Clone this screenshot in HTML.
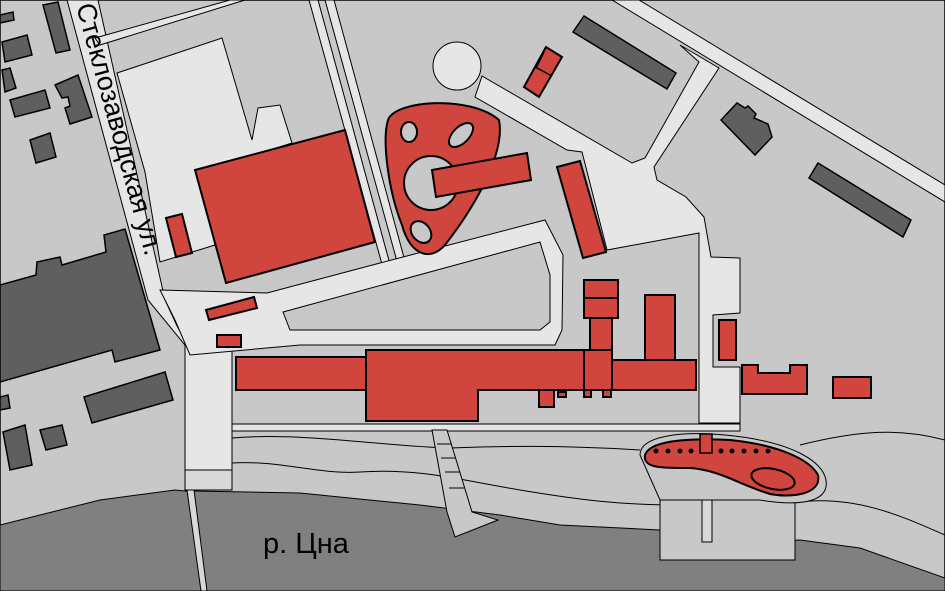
<!DOCTYPE html>
<html><head><meta charset="utf-8"><style>
html,body{margin:0;padding:0;background:#c8c8c8;}
svg{display:block;}
</style></head><body>
<svg width="945" height="591" viewBox="0 0 945 591" xmlns="http://www.w3.org/2000/svg">
<rect x="0" y="0" width="945" height="591" fill="#c8c8c8" stroke="#000" stroke-width="1.5"/>
<g stroke="#000" stroke-width="1" fill="#e6e6e6">
<polygon points="67,0 98,0 165,300 178,328 186,340 232,340 232,490 185,490 185,345 148,300" />
<polygon points="95,38 230,0 245,0 100,45"/>
<polygon points="117,73 222,38 252,140 258,108 280,105 292,143 200,172 215,245 160,262 145,172"/>
<polygon points="309,0 318,0 391,268 383,268"/>
<polygon points="325,0 334,0 406,265 398,265"/>
<polygon points="160,290 267,293 380,263 545,220 563,255 562,330 555,345 300,345 190,355 175,320"/>
<polygon fill="#c8c8c8" points="283,312 540,242 550,275 550,322 540,330 290,330"/>
<!-- branch + plaza -->
<polygon points="680,45 719,68 654,167 657,180 686,197 704,217 711,257 740,258 740,313 713,315 713,367 740,367 740,423 699,423 699,233 607,250 582,152 567,150 475,97 482,76 632,163 645,158 699,62"/>
<!-- top right diagonal road -->
<polygon points="612,0 639,0 945,185 945,202"/>
<circle cx="457" cy="66" r="24"/>
<rect x="232" y="424" width="508" height="7"/>
</g>
<!-- river -->
<path d="M0,525 L100,500 L175,490 L185,491 L193,491 L300,493 L420,505 L500,515 L560,525 L660,530 L700,545 L800,540 L860,548 L945,578 L945,591 L0,591 Z" fill="#808080" stroke="#000" stroke-width="1"/>
<g fill="none" stroke="#000" stroke-width="1">
<path d="M232,438 C300,432 380,446 450,448 C500,446 560,445 640,450"/>
<path d="M232,463 C280,460 320,475 360,472 C420,468 460,480 520,490 C580,500 620,505 680,505"/>
<path d="M800,445 C860,430 900,428 945,440"/>
<path d="M800,502 C860,495 910,520 945,535"/>
</g>
<g stroke="#000" stroke-width="1" fill="#c8c8c8">
<polygon points="432,430 447,430 472,512 498,520 455,537 447,512"/>
<rect x="660" y="500" width="135" height="60"/>
<rect x="702" y="500" width="10" height="42" fill="#d8d8d8"/>
<polygon points="187,490 194,490 207,591 201,591" fill="#d8d8d8"/>
<rect x="185" y="470" width="47" height="20" fill="#d8d8d8"/>
</g>
<g stroke="#000" stroke-width="1" fill="none">
<line x1="437" y1="444" x2="452" y2="444"/><line x1="441" y1="458" x2="456" y2="458"/><line x1="445" y1="472" x2="460" y2="472"/><line x1="449" y1="488" x2="464" y2="488"/>
</g>
<path d="M640,455 C640,436 680,431 725,435 C790,441 830,462 826,487 C822,505 790,505 760,500 L660,500 Z" fill="#c8c8c8" stroke="#000" stroke-width="1"/>
<path d="M645,455 C650,440 690,438 730,440 C780,445 810,460 818,475 C822,495 790,498 770,494 C740,485 720,470 690,468 C660,468 643,468 645,455Z" fill="#d0463f" stroke="#000" stroke-width="2"/>
<ellipse cx="773" cy="479" rx="22" ry="10" transform="rotate(12 773 479)" fill="#d0463f" stroke="#000" stroke-width="2"/>
<rect x="700" y="434" width="12" height="19" fill="#d0463f" stroke="#000" stroke-width="1.5"/>
<g fill="#000">
<circle cx="656" cy="451" r="2.5"/><circle cx="668" cy="451" r="2.5"/><circle cx="680" cy="451" r="2.5"/><circle cx="691" cy="451" r="2.5"/><circle cx="721" cy="451" r="2.5"/><circle cx="732" cy="451" r="2.5"/><circle cx="744" cy="451" r="2.5"/><circle cx="756" cy="451" r="2.5"/><circle cx="768" cy="451" r="2.5"/>
</g>
<g fill="#5f5f5f" stroke="#000" stroke-width="1.5">
<polygon points="43,5 58,2 70,50 56,53"/>
<polygon points="0,15 13,12 14,20 0,23"/>
<polygon points="2,42 27,35 32,55 5,62"/>
<polygon points="2,70 10,68 16,88 5,92"/>
<polygon points="10,100 45,90 50,108 15,117"/>
<polygon points="55,85 78,75 92,117 70,124 65,108 70,106 68,97 62,98"/>
<polygon points="30,140 50,133 56,157 36,163"/>
<polygon points="0,285 36,275 37,262 60,257 62,265 106,252 104,235 125,229 160,350 115,362 112,350 0,382"/>
<polygon points="84,397 165,372 173,400 92,423"/>
<polygon points="0,397 8,395 10,408 0,410"/>
<polygon points="3,432 25,425 32,465 10,470"/>
<polygon points="40,430 62,425 67,445 46,450"/>
<polygon points="573,32 584,16 676,73 667,89"/>
<polygon points="809,178 818,163 911,220 903,237"/>
<polygon points="721,120 737,103 745,108 748,106 756,114 754,118 768,124 772,137 755,155"/>
</g>
<g fill="#d0463f" stroke="#000" stroke-width="2">
<polygon points="195,170 345,130 375,242 226,283"/>
<polygon points="166,218 182,214 192,253 176,257"/>
<polygon points="206,310 254,297 257,308 209,320"/>
<rect x="217" y="335" width="24" height="12"/>
<rect x="236" y="357" width="130" height="33"/>
<polygon points="366,350 585,350 585,390 478,390 478,421 366,421"/>
<rect x="584" y="350" width="28" height="40"/>
<rect x="612" y="360" width="84" height="30"/>
<rect x="590" y="318" width="22" height="32"/>
<rect x="584" y="280" width="34" height="18"/>
<rect x="584" y="298" width="34" height="20"/>
<rect x="645" y="295" width="30" height="65"/>
<rect x="539" y="390" width="15" height="17"/>
<rect x="558" y="392" width="8" height="5"/>
<rect x="584" y="390" width="7" height="7"/>
<rect x="603" y="390" width="8" height="7"/>
<rect x="719" y="320" width="17" height="40"/>
<polygon points="742,365 758,365 758,373 790,373 790,365 807,365 807,394 742,394"/>
<rect x="833" y="377" width="38" height="21"/>
<polygon points="557,167 580,161 606,252 583,258"/>
<polygon points="524,87 546,47 562,57 539,97"/>
<path d="M388,120 C395,100 470,95 499,120 C505,150 480,200 445,245 C430,262 410,255 402,225 C388,190 382,140 388,120 Z"/>
</g>
<line x1="535" y1="67" x2="552" y2="76" stroke="#000" stroke-width="1.5"/>
<line x1="544" y1="52" x2="536" y2="68" stroke="#000" stroke-width="1.5"/>
<circle cx="431" cy="183" r="27" fill="#c8c8c8" stroke="#000" stroke-width="2"/>
<polygon points="432,170 527,153 531,180 436,197" fill="#d0463f" stroke="#000" stroke-width="2"/>
<g fill="#c8c8c8" stroke="#000" stroke-width="2">
<ellipse cx="409" cy="132" rx="8" ry="10"/>
<ellipse cx="461" cy="135" rx="15" ry="8" transform="rotate(-45 461 135)"/>
<ellipse cx="421" cy="232" rx="9" ry="12" transform="rotate(-40 421 232)"/>
</g>
<text x="0" y="0" transform="translate(76,6) rotate(74.5)" font-family="Liberation Sans, sans-serif" font-size="27" fill="#000">Стеклозаводская ул.</text>
<text x="263" y="553" font-family="Liberation Sans, sans-serif" font-size="29" fill="#000">р. Цна</text>
</svg>
</body></html>
